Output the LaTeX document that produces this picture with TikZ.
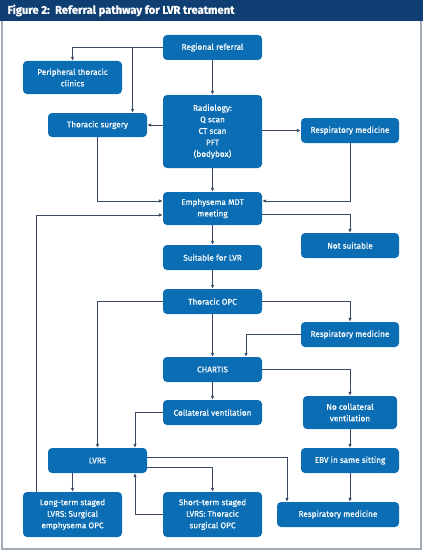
\documentclass[tikz,border=0pt]{standalone}
\usepackage{fontspec}
\setmainfont{Fira Sans}
\newfontfamily\boxfont{Fira Sans}[FakeBold=0.5]
\newfontfamily\titlefont{Fira Sans}[BoldFeatures={FakeBold=0.8}]
\usetikzlibrary{arrows.meta}
\definecolor{boxblue}{HTML}{0B6DB3}
\definecolor{linenavy}{HTML}{3B4866}
\definecolor{headnavy}{HTML}{0F3E72}
\definecolor{framegray}{HTML}{A3ABB5}
\tikzset{
  box/.style={fill=boxblue, rounded corners=4pt, text=white, align=center,
    inner sep=0pt, minimum width=99pt, minimum height=25pt,
    font=\boxfont\fontsize{8.2}{11.5}\selectfont},
  arr/.style={draw=linenavy, line width=0.9pt, -{Latex[length=4pt,width=3.6pt]}}
}
\begin{document}
\begin{tikzpicture}[x=1pt,y=-1pt]
            \useasboundingbox (0,0) rectangle (423,551);
            \fill[headnavy] (0,0) rectangle (423,21);
            \node[anchor=west, text=white, font=\titlefont\fontsize{11.2}{13}\selectfont\bfseries] (title) at (4,10.5) {Figure 2:\ \ Referral pathway for LVR treatment};
            \draw[framegray, line width=1.2pt] (2,21) -- (2,549) -- (421,549) -- (421,21);
            \node[box] (ref) at (212.5,47.5) {Regional referral};
            \node[box, minimum height=33pt] (periph) at (72.5,77.5) {Peripheral thoracic\\clinics};
            \node[box, minimum height=24pt] (tsurg) at (97.5,125) {Thoracic surgery};
            \node[box, minimum height=73pt] (radio) at (212.5,131.5) {Radiology:\\Q scan\\CT scan\\PFT\\(bodybox)};
            \node[box, minimum width=98pt] (resp1) at (350,130.5) {Respiratory medicine};
            \node[box, minimum height=33pt] (mdt) at (212.5,208.5) {Emphysema MDT\\meeting};
            \node[box, minimum width=98pt] (notsuit) at (350,245.5) {Not suitable};
            \node[box] (suit) at (212.5,257.5) {Suitable for LVR};
            \node[box] (opc) at (212.5,301.5) {Thoracic OPC};
            \node[box, minimum width=98pt] (resp2) at (350,334.5) {Respiratory medicine};
            \node[box] (chartis) at (212.5,369.5) {CHARTIS};
            \node[box] (colv) at (212.5,412.5) {Collateral ventilation};
            \node[box, minimum width=94pt, minimum height=33pt] (nocolv) at (350,412.5) {No collateral\\ventilation};
            \node[box] (lvrs) at (97.5,460.5) {LVRS};
            \node[box, minimum width=98pt] (ebv) at (350,460.5) {EBV in same sitting};
            \node[box, minimum height=45pt] (long) at (72.5,514.5) {Long-term staged\\LVRS: Surgical\\emphysema OPC};
            \node[box, minimum height=45pt] (short) at (212.5,514.5) {Short-term staged\\LVRS: Thoracic\\surgical OPC};
            \node[box, minimum width=122pt] (resp3) at (338,514.5) {Respiratory medicine};
            \draw[arr] (ref.west) -| (periph.north);
            \draw[arr] (ref.west) -| ([xshift=35pt]tsurg.north);
            \draw[arr] (ref) -- (radio);
            \draw[arr] (radio.west |- tsurg.east) -- (tsurg.east);
            \draw[arr] (radio.east |- resp1.west) -- (resp1.west);
            \draw[arr] (radio) -- (mdt);
            \draw[arr] (tsurg.south) |- ([yshift=7.5pt]mdt.west);
            \draw[arr] (resp1.south) |- ([yshift=7.5pt]mdt.east);
            \draw[arr] ([yshift=-5.5pt]mdt.east) -| (notsuit.north);
            \draw[arr] ([xshift=14pt]long.north west) |- ([yshift=-6.5pt]mdt.west);
            \draw[arr] (mdt) -- (suit);
            \draw[arr] (suit) -- (opc);
            \draw[arr] (opc.west) -| (lvrs.north);
            \draw[arr] (opc.east) -| (resp2.north);
            \draw[arr] (opc) -- (chartis);
            \draw[arr] (resp2.west) -| ([xshift=33.5pt]chartis.north);
            \draw[arr] (chartis.east) -| (nocolv.north);
            \draw[arr] (chartis) -- (colv);
            \draw[arr] (colv.west) -| ([xshift=37.5pt]lvrs.north);
            \draw[arr] (nocolv) -- (ebv);
            \draw[arr] (ebv.south) -- (ebv.south |- resp3.north);
            \draw[arr] ([yshift=3.5pt]lvrs.east) -| ([xshift=-51pt]resp3.north);
            \draw[arr] ([yshift=-6.5pt]lvrs.east) -| (short.north);
            \draw[arr] (long.north |- lvrs.south) -- (long.north);
            \draw[arr] (short.west) -| ([xshift=37.5pt]lvrs.south);
        \end{tikzpicture}
\end{document}
